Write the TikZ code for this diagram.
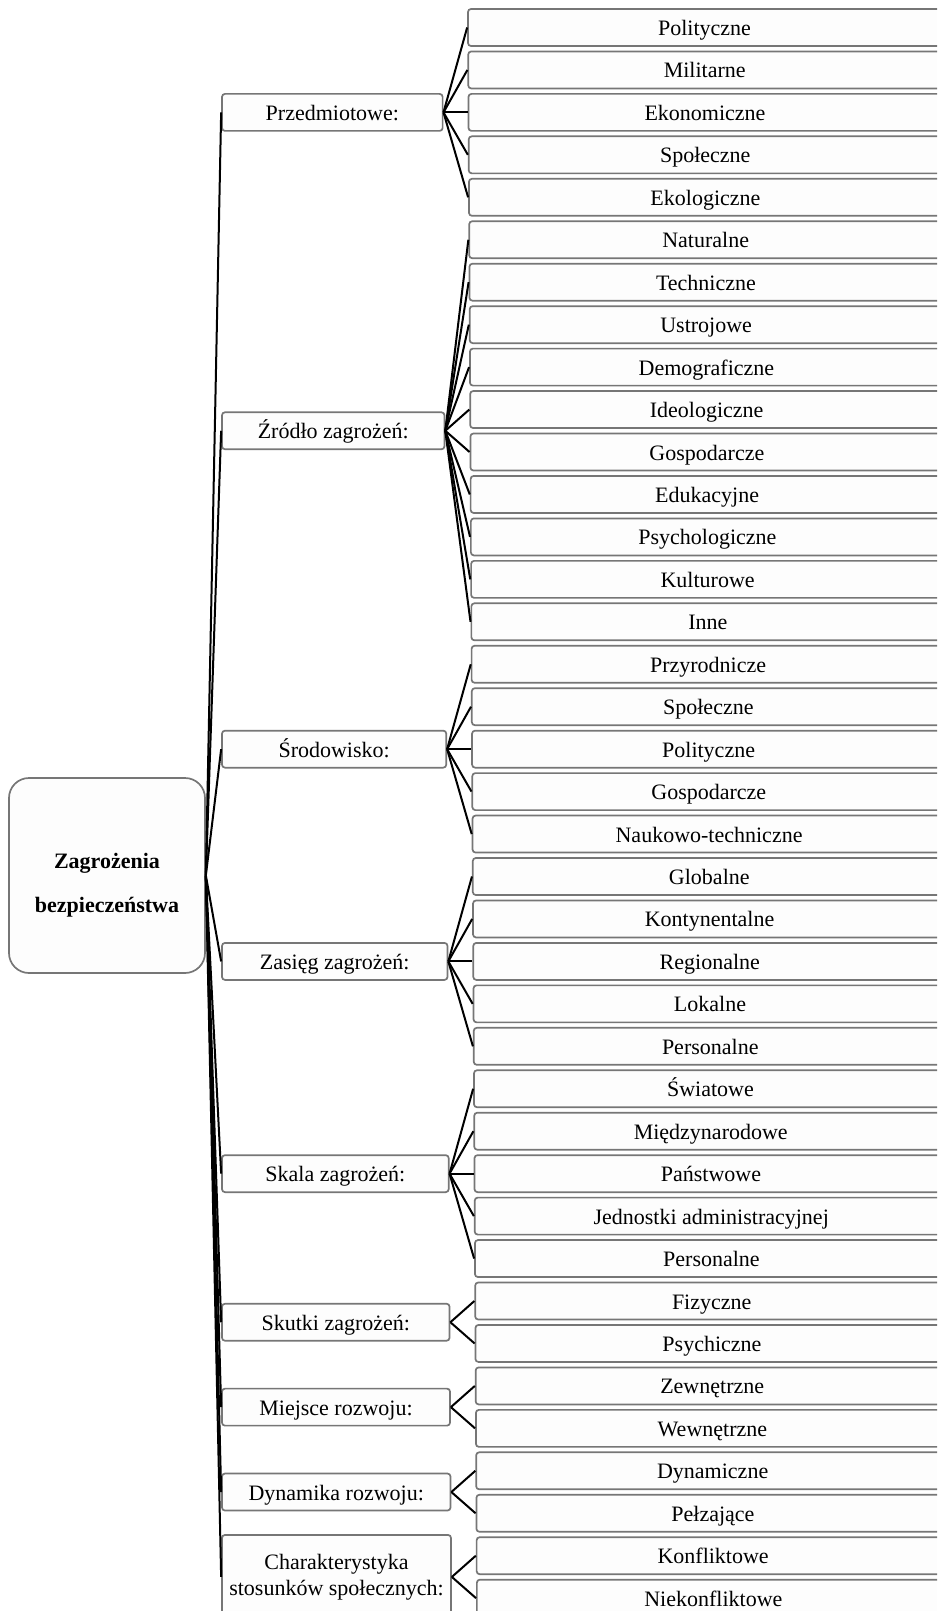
\documentclass[tikz,border=0pt]{standalone}
\usepackage{fontspec}
\setmainfont{Liberation Serif}
\definecolor{boxline}{RGB}{118,118,118}
\definecolor{boxfill}{RGB}{253,253,253}
\tikzset{
  box/.style={draw=boxline, fill=boxfill, line width=0.85pt, inner sep=0pt,
    rounded corners=1.5pt, font=\fontsize{11}{13}\selectfont},
  oneline/.style={text height=8pt, text depth=0pt},
  leafbox/.style={box, oneline, minimum height=18.5pt, minimum width=236.5pt},
  catbox/.style={box, oneline},
  tallcatbox/.style={box, align=center},
  rootbox/.style={draw=boxline, fill=boxfill, line width=0.85pt, rounded corners=10pt,
    minimum width=98pt, minimum height=97.5pt, inner sep=0pt},
  roottext/.style={align=center, inner sep=0pt, font=\bfseries\fontsize{11}{22}\selectfont},
  link/.style={draw=black, line width=1pt}
}
\begin{document}
\begin{tikzpicture}[x=0.5pt,y=-0.5pt]
\useasboundingbox (0,0) rectangle (937,1611);
\clip (0,0) rectangle (937,1611);
\fill[white] (0,0) rectangle (937,1611);

% root of the hierarchy
\node[rootbox] (root) at (107,875.5) {};
\node[roottext] (rootlabel) at (107,885) {Zagrożenia\\bezpieczeństwa};

% second level: list of leaves, one every 42.45 px
\foreach \t [count=\k from 0] in {Polityczne, Militarne, Ekonomiczne, Społeczne, Ekologiczne,
  Naturalne, Techniczne, Ustrojowe, Demograficzne, Ideologiczne, Gospodarcze, Edukacyjne,
  Psychologiczne, Kulturowe, Inne,
  Przyrodnicze, Społeczne, Polityczne, Gospodarcze, Naukowo-techniczne,
  Globalne, Kontynentalne, Regionalne, Lokalne, Personalne,
  Światowe, Międzynarodowe, Państwowe, Jednostki administracyjnej, Personalne,
  Fizyczne, Psychiczne, Zewnętrzne, Wewnętrzne, Dynamiczne, Pełzające,
  Konfliktowe, Niekonfliktowe} {
  \pgfmathsetmacro\lx{468+0.24*\k+236.5}
  \pgfmathsetmacro\ly{27.5+42.45*\k}
  \node[leafbox] (l\k) at (\lx,\ly) {\t};
}

% first level: categories, each centred on its group of leaves
\foreach \t/\a/\b/\h [count=\i] in {
  Przedmiotowe:/0/4/37,
  Źródło zagrożeń:/5/14/37,
  Środowisko:/15/19/37,
  Zasięg zagrożeń:/20/24/37,
  Skala zagrożeń:/25/29/37,
  Skutki zagrożeń:/30/31/37,
  Miejsce rozwoju:/32/33/37,
  Dynamika rozwoju:/34/35/37,
  {Charakterystyka\\stosunków społecznych:}/36/37/84} {
  \pgfmathsetmacro\cy{27.5+42.45*(\a+\b)/2}
  \pgfmathsetmacro\cright{442+0.0057*\cy}
  \pgfmathsetmacro\cx{(222+\cright)/2}
  \pgfmathsetmacro\cw{(\cright-222)/2}
  \pgfmathsetmacro\ch{\h/2}
  \ifnum\h>50
    \node[tallcatbox, minimum width=\cw pt, minimum height=\ch pt] (c\i) at (\cx,\cy) {\t};
  \else
    \node[catbox, minimum width=\cw pt, minimum height=\ch pt] (c\i) at (\cx,\cy) {\t};
  \fi
  \draw[link] (root.east) -- (c\i.west);
  \foreach \j in {\a,...,\b} {
    \draw[link] (c\i.east) -- (l\j.west);
  }
}
\end{tikzpicture}
\end{document}
